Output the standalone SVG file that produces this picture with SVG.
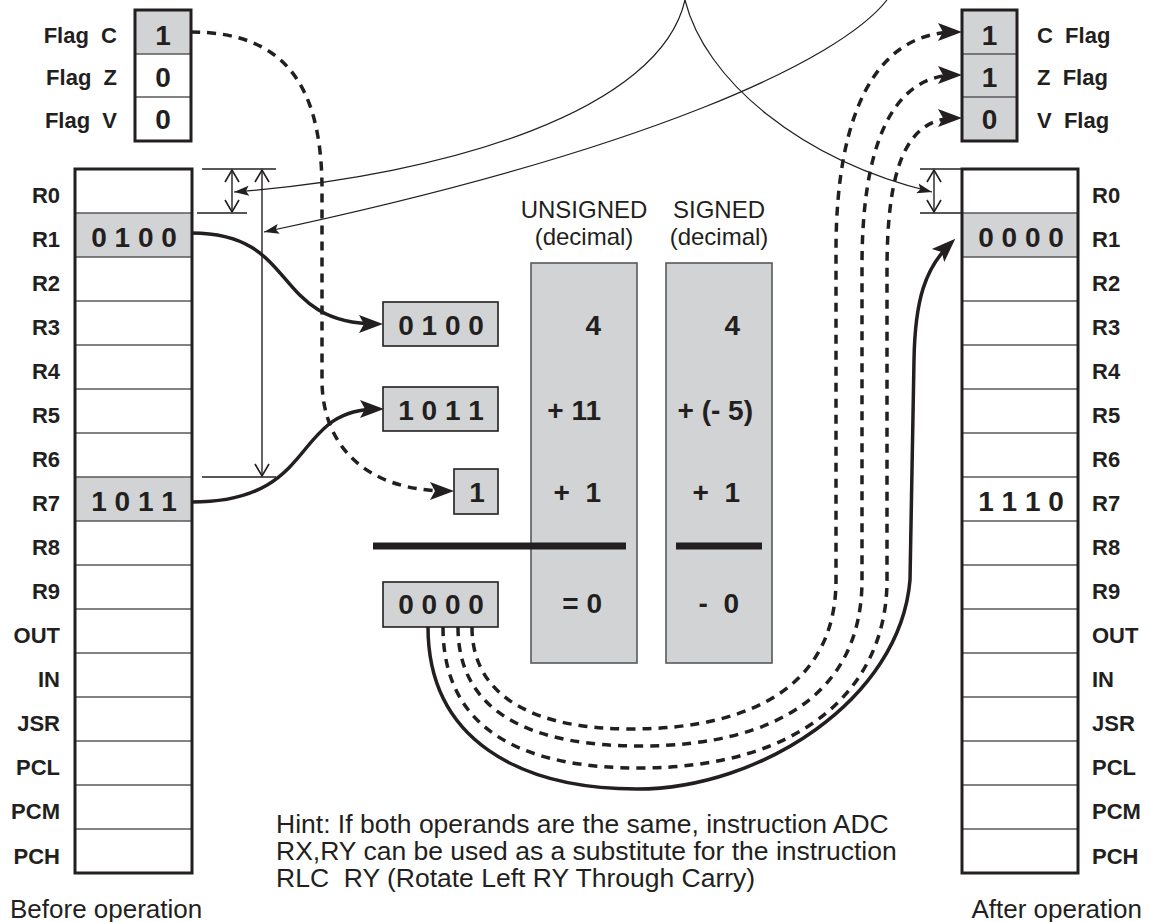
<svg xmlns="http://www.w3.org/2000/svg" width="1150" height="922" viewBox="0 0 1150 922">
<style>
.t{font-family:"Liberation Sans",Arial,Helvetica,sans-serif;fill:#231f20}
.lbl{font-weight:bold;font-size:22px}
.dig{font-weight:bold;font-size:28px;text-anchor:middle}
.num{font-weight:bold;font-size:28px;text-anchor:end}
.cap{font-size:24px;text-anchor:middle}
.hint{font-size:26.5px}
.foot{font-size:26px}
.end{text-anchor:end}
.frame{fill:none;stroke:#231f20;stroke-width:3}
.row{stroke:#58595b;stroke-width:1.4}
.gray{fill:#d1d3d4}
.box{fill:#d1d3d4;stroke:#231f20;stroke-width:1.6}
.col{fill:#d1d3d4;stroke:#58595b;stroke-width:1.6}
.bar{stroke:#231f20;stroke-width:7}
.thick{fill:none;stroke:#231f20;stroke-width:3.5}
.dash{fill:none;stroke:#231f20;stroke-width:3.5;stroke-dasharray:9 7}
.thin{fill:none;stroke:#231f20;stroke-width:1.2}
.dim{fill:none;stroke:#231f20;stroke-width:1.4}
</style>
<defs>
<marker id="big" markerUnits="userSpaceOnUse" markerWidth="26" markerHeight="20" refX="18" refY="9" orient="auto" overflow="visible">
<path d="M0,0 L24,9 L0,18 L5,9 Z" fill="#231f20"/>
</marker>
<marker id="small" markerUnits="userSpaceOnUse" markerWidth="16" markerHeight="12" refX="15" refY="5" orient="auto" overflow="visible">
<path d="M0,0 L15,5 L0,10 L3,5 Z" fill="#231f20"/>
</marker>
<marker id="open" markerUnits="userSpaceOnUse" markerWidth="14" markerHeight="16" refX="12" refY="7" orient="auto-start-reverse" overflow="visible">
<path d="M0,0 L12,7 L0,14" fill="none" stroke="#231f20" stroke-width="1.6"/>
</marker>
</defs>
<rect width="1150" height="922" fill="#ffffff"/>

<!-- Flags before -->
<g id="flags-before">
<rect class="gray" x="135" y="10" width="56" height="44"/>
<line class="row" x1="135" y1="54" x2="191" y2="54"/>
<line class="row" x1="135" y1="97" x2="191" y2="97"/>
<rect class="frame" x="135" y="10" width="56" height="131"/>
<text class="t dig" x="163" y="45">1</text>
<text class="t dig" x="163" y="87">0</text>
<text class="t dig" x="163" y="129">0</text>
<text class="t lbl end" x="117" y="43">Flag&#160;&#160;C</text>
<text class="t lbl end" x="117" y="85">Flag&#160;&#160;Z</text>
<text class="t lbl end" x="117" y="128">Flag&#160;&#160;V</text>
</g>

<!-- Registers before -->
<g id="registers-before">
<rect class="gray" x="75" y="213" width="117" height="44"/>
<rect class="gray" x="75" y="477" width="117" height="44"/>
<line class="row" x1="75" y1="213" x2="192" y2="213"/>
<line class="row" x1="75" y1="257" x2="192" y2="257"/>
<line class="row" x1="75" y1="301" x2="192" y2="301"/>
<line class="row" x1="75" y1="345" x2="192" y2="345"/>
<line class="row" x1="75" y1="389" x2="192" y2="389"/>
<line class="row" x1="75" y1="433" x2="192" y2="433"/>
<line class="row" x1="75" y1="477" x2="192" y2="477"/>
<line class="row" x1="75" y1="521" x2="192" y2="521"/>
<line class="row" x1="75" y1="565" x2="192" y2="565"/>
<line class="row" x1="75" y1="609" x2="192" y2="609"/>
<line class="row" x1="75" y1="653" x2="192" y2="653"/>
<line class="row" x1="75" y1="697" x2="192" y2="697"/>
<line class="row" x1="75" y1="741" x2="192" y2="741"/>
<line class="row" x1="75" y1="785" x2="192" y2="785"/>
<line class="row" x1="75" y1="829" x2="192" y2="829"/>
<rect class="frame" x="75" y="169" width="117" height="704"/>
<text class="t dig" x="134" y="247">0 1 0 0</text>
<text class="t dig" x="134" y="511">1 0 1 1</text>
<g class="t lbl end">
<text x="60" y="203">R0</text>
<text x="60" y="247">R1</text>
<text x="60" y="291">R2</text>
<text x="60" y="335">R3</text>
<text x="60" y="379">R4</text>
<text x="60" y="423">R5</text>
<text x="60" y="467">R6</text>
<text x="60" y="511">R7</text>
<text x="60" y="555">R8</text>
<text x="60" y="599">R9</text>
<text x="60" y="643">OUT</text>
<text x="60" y="687">IN</text>
<text x="60" y="731">JSR</text>
<text x="60" y="775">PCL</text>
<text x="60" y="819">PCM</text>
<text x="60" y="864">PCH</text>
</g>
<text class="t foot" x="10" y="918">Before operation</text>
</g>

<!-- Flags after -->
<g id="flags-after">
<rect class="gray" x="962" y="10" width="55" height="131"/>
<line class="row" x1="962" y1="54" x2="1017" y2="54"/>
<line class="row" x1="962" y1="97" x2="1017" y2="97"/>
<rect class="frame" x="962" y="10" width="55" height="131"/>
<text class="t dig" x="989.5" y="45">1</text>
<text class="t dig" x="989.5" y="87">1</text>
<text class="t dig" x="989.5" y="129">0</text>
<text class="t lbl" x="1037" y="43">C&#160;&#160;Flag</text>
<text class="t lbl" x="1037" y="85">Z&#160;&#160;Flag</text>
<text class="t lbl" x="1037" y="128">V&#160;&#160;Flag</text>
</g>

<!-- Registers after -->
<g id="registers-after">
<rect class="gray" x="962" y="213" width="116" height="44"/>
<line class="row" x1="962" y1="213" x2="1078" y2="213"/>
<line class="row" x1="962" y1="257" x2="1078" y2="257"/>
<line class="row" x1="962" y1="301" x2="1078" y2="301"/>
<line class="row" x1="962" y1="345" x2="1078" y2="345"/>
<line class="row" x1="962" y1="389" x2="1078" y2="389"/>
<line class="row" x1="962" y1="433" x2="1078" y2="433"/>
<line class="row" x1="962" y1="477" x2="1078" y2="477"/>
<line class="row" x1="962" y1="521" x2="1078" y2="521"/>
<line class="row" x1="962" y1="565" x2="1078" y2="565"/>
<line class="row" x1="962" y1="609" x2="1078" y2="609"/>
<line class="row" x1="962" y1="653" x2="1078" y2="653"/>
<line class="row" x1="962" y1="697" x2="1078" y2="697"/>
<line class="row" x1="962" y1="741" x2="1078" y2="741"/>
<line class="row" x1="962" y1="785" x2="1078" y2="785"/>
<line class="row" x1="962" y1="829" x2="1078" y2="829"/>
<rect class="frame" x="962" y="169" width="116" height="704"/>
<text class="t dig" x="1021" y="247">0 0 0 0</text>
<text class="t dig" x="1021" y="511">1 1 1 0</text>
<g class="t lbl">
<text x="1092" y="203">R0</text>
<text x="1092" y="247">R1</text>
<text x="1092" y="291">R2</text>
<text x="1092" y="335">R3</text>
<text x="1092" y="379">R4</text>
<text x="1092" y="423">R5</text>
<text x="1092" y="467">R6</text>
<text x="1092" y="511">R7</text>
<text x="1092" y="555">R8</text>
<text x="1092" y="599">R9</text>
<text x="1092" y="643">OUT</text>
<text x="1092" y="687">IN</text>
<text x="1092" y="731">JSR</text>
<text x="1092" y="775">PCL</text>
<text x="1092" y="819">PCM</text>
<text x="1092" y="864">PCH</text>
</g>
<text class="t foot end" x="1142" y="918">After operation</text>
</g>

<!-- Operand boxes -->
<g id="operand-a">
<rect class="box" x="383" y="302" width="115" height="44"/>
<text class="t dig" x="441" y="335">0 1 0 0</text>
</g>
<g id="operand-b">
<rect class="box" x="383" y="387" width="115" height="44"/>
<text class="t dig" x="441" y="420">1 0 1 1</text>
</g>
<g id="carry-in">
<rect class="box" x="454" y="469" width="44" height="45"/>
<text class="t dig" x="477" y="502">1</text>
</g>
<g id="result">
<rect class="box" x="383" y="582" width="115" height="45"/>
<text class="t dig" x="441" y="614">0 0 0 0</text>
</g>

<!-- Unsigned column -->
<g id="unsigned">
<text class="t cap" x="584" y="218">UNSIGNED</text>
<text class="t cap" x="584" y="245">(decimal)</text>
<rect class="col" x="531" y="263" width="106" height="400"/>
<text class="t num" x="601" y="335">4</text>
<text class="t num" x="601" y="420">+ 11</text>
<text class="t num" x="601" y="502">+&#160;&#160;1</text>
<text class="t num" x="602" y="613">= 0</text>
</g>

<!-- Signed column -->
<g id="signed">
<text class="t cap" x="719" y="218">SIGNED</text>
<text class="t cap" x="719" y="245">(decimal)</text>
<rect class="col" x="666" y="263" width="106" height="400"/>
<text class="t num" x="740" y="335">4</text>
<text class="t num" x="753" y="420">+ (- 5)</text>
<text class="t num" x="740" y="502">+&#160;&#160;1</text>
<text class="t num" x="739" y="613">-&#160;&#160;0</text>
</g>

<g id="sum-bars">
<line class="bar" x1="373" y1="546" x2="626" y2="546"/>
<line class="bar" x1="676" y1="546" x2="762" y2="546"/>
</g>

<g id="hint">
<text class="t hint" x="276" y="833">Hint: If both operands are the same, instruction ADC</text>
<text class="t hint" x="276" y="860">RX,RY can be used as a substitute for the instruction</text>
<text class="t hint" x="276" y="887">RLC&#160;&#160;RY (Rotate Left RY Through Carry)</text>
</g>

<!-- Connectors -->
<g id="connectors">
<path class="thick" d="M192,233 C 300,233 270,324 377,324" marker-end="url(#big)"/>
<path class="thick" d="M192,502 C 320,502 290,409 378,409" marker-end="url(#big)"/>
<path class="dash" d="M191,32 C 282,32 322,82 322,190 L322,380 C 322,445 365,491 448,491" marker-end="url(#big)"/>
<path class="thick" d="M428,627 C 428,740 520,789 637,789 C 760,789 900,700 910,580 L914,360 C 915,300 925,268 951,243" marker-end="url(#big)"/>
<path class="dash" d="M472,627 C 472,700 540,729 630,729 C 760,729 836,680 836,580 L836,250 C 836,115 875,32 956,32" marker-end="url(#big)"/>
<path class="dash" d="M458,627 C 458,715 535,746 640,746 C 780,746 862,690 862,580 L862,265 C 862,150 890,75 956,75" marker-end="url(#big)"/>
<path class="dash" d="M443,627 C 443,735 530,768 640,768 C 800,768 887,690 887,580 L887,270 C 887,170 905,118 956,118" marker-end="url(#big)"/>
<path class="thin" d="M685,0 C 660,110 450,175 234,192" marker-end="url(#small)"/>
<path class="thin" d="M685,0 C 705,80 800,160 932,192" marker-end="url(#small)"/>
<path class="thin" d="M887,0 C 840,60 650,150 264,232" marker-end="url(#small)"/>
<g id="dimensions">
<line class="dim" x1="202" y1="169" x2="276" y2="169"/>
<line class="dim" x1="197" y1="213" x2="247" y2="213"/>
<line class="dim" x1="202" y1="477" x2="276" y2="477"/>
<line class="dim" x1="232" y1="170" x2="232" y2="212" marker-start="url(#open)" marker-end="url(#open)"/>
<line class="dim" x1="262" y1="170" x2="262" y2="476" marker-start="url(#open)" marker-end="url(#open)"/>
<line class="dim" x1="920" y1="169" x2="962" y2="169"/>
<line class="dim" x1="920" y1="213" x2="962" y2="213"/>
<line class="dim" x1="934" y1="170" x2="934" y2="212" marker-start="url(#open)" marker-end="url(#open)"/>
</g>
</g>
</svg>
